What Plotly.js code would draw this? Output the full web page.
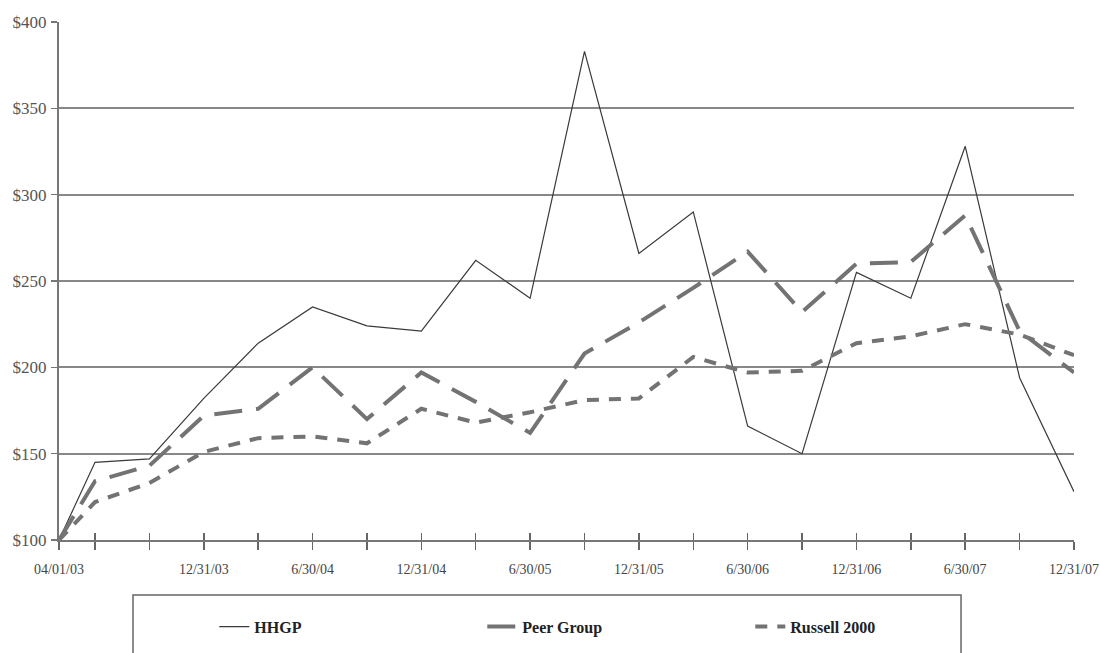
<!DOCTYPE html>
<html>
<head>
<meta charset="utf-8">
<script src="https://cdn.plot.ly/plotly-3.0.1.min.js"></script>
<style>html,body{margin:0;padding:0;background:#fff;}#chart{width:1100px;height:653px;}</style>
</head>
<body>
<div id="chart"></div>
<script>
// Quarter positions (first period is a partial quarter from 04/01/03)
const xPos = [0, 0.662, 1.662, 2.662, 3.662, 4.662, 5.662, 6.662, 7.662, 8.662, 9.662,
              10.662, 11.662, 12.662, 13.662, 14.662, 15.662, 16.662, 17.662, 18.662];
const tickLabels = ["04/01/03", "", "", "12/31/03", "", "6/30/04", "", "12/31/04", "", "6/30/05", "",
                    "12/31/05", "", "6/30/06", "", "12/31/06", "", "6/30/07", "", "12/31/07"];
const hhgp = [100, 145, 147, 182, 214, 235, 224, 221, 262, 240, 383, 266, 290, 166, 150, 255, 240, 328, 194, 128];
const peerGroup = [100, 134, 143, 172, 176, 200, 170, 197, 180, 162, 208, 226, 246, 267, 232, 260, 261, 288, 221, 197];
const russell2000 = [100, 122, 133, 151, 159, 160, 156, 176, 168, 174, 181, 182, 206, 197, 198, 214, 218, 225, 219, 207];
const yTicks = [100, 150, 200, 250, 300, 350, 400];
const yTickText = ["$100", "$150", "$200", "$250", "$300", "$350", "$400"];

const serif = "Liberation Serif, Times New Roman, serif";

const traces = [
  {x: xPos, y: hhgp, name: "HHGP", type: "scatter", mode: "lines",
   line: {color: "#3a3a3a", width: 1.2}},
  {x: xPos, y: peerGroup, name: "Peer Group", type: "scatter", mode: "lines",
   line: {color: "#737373", width: 4, dash: "28px,14px"}},
  {x: xPos, y: russell2000, name: "Russell 2000", type: "scatter", mode: "lines",
   line: {color: "#737373", width: 4, dash: "12px,10px"}},
  // dummy trace on overlay axis for inward tick marks
  {x: [xPos[0]], y: [hhgp[0]], xaxis: "x2", yaxis: "y", type: "scatter", mode: "lines",
   showlegend: false, hoverinfo: "skip", line: {width: 0}}
];

const xRange = [xPos[0], xPos[xPos.length - 1]];

const layout = {
  width: 1100, height: 653,
  paper_bgcolor: "#fff", plot_bgcolor: "#fff",
  margin: {l: 59, r: 26, t: 22, b: 113, autoexpand: false},
  font: {family: serif, color: "#444"},
  showlegend: true,
  legend: {
    orientation: "h", x: 0.153, xanchor: "left", y: -0.1346, yanchor: "top",
    font: {family: serif, size: 16, color: "#222", weight: "bold"},
    entrywidth: 223, entrywidthmode: "pixels",
    bgcolor: "rgba(0,0,0,0)", borderwidth: 0
  },
  xaxis: {
    range: xRange, tickmode: "array", tickvals: xPos, ticktext: tickLabels,
    ticks: "outside", ticklen: 8, tickwidth: 1.5, tickcolor: "#666",
    showgrid: false, zeroline: false, showline: true, linecolor: "#777", linewidth: 2,
    tickfont: {family: serif, size: 14, color: "#444"}, ticklabelstandoff: 7,
    fixedrange: true
  },
  xaxis2: {
    overlaying: "x", anchor: "y", side: "bottom", range: xRange,
    tickmode: "array", tickvals: xPos.slice(1), ticktext: xPos.slice(1).map(() => ""),
    ticks: "inside", ticklen: 7, tickwidth: 1.5, tickcolor: "#666",
    showgrid: false, zeroline: false, showline: false, showticklabels: false
  },
  yaxis: {
    range: [100, 400], tickmode: "array", tickvals: yTicks, ticktext: yTickText,
    ticks: "outside", ticklen: 6, tickwidth: 1.5, tickcolor: "#777",
    showgrid: true, gridcolor: "#888888", gridwidth: 2,
    zeroline: false, showline: true, linecolor: "#777", linewidth: 2,
    tickfont: {family: serif, size: 17, color: "#555"}, ticklabelstandoff: 1,
    fixedrange: true
  },
  shapes: [
    {type: "rect", xref: "paper", yref: "paper", x0: 0.0729, x1: 0.8887, y0: -0.1062, y1: -0.26,
     line: {color: "#666", width: 1.5}, fillcolor: "rgba(0,0,0,0)", layer: "below"}
  ]
};

Plotly.newPlot("chart", traces, layout, {displayModeBar: false, staticPlot: true});
</script>
</body>
</html>
